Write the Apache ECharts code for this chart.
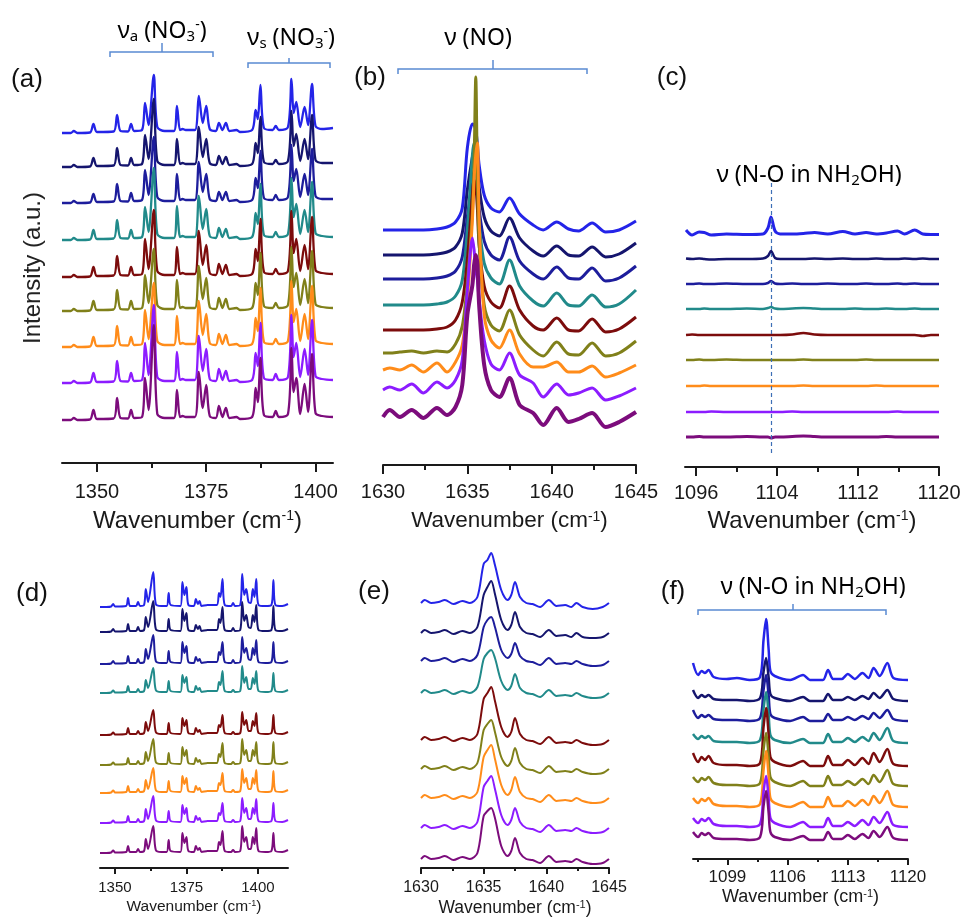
<!DOCTYPE html>
<html>
<head>
<meta charset="utf-8">
<script src="https://cdn.jsdelivr.net/npm/echarts@6/dist/echarts.min.js"></script>
<style>
  html, body { margin: 0; padding: 0; background: #fff; }
  #chart { width: 965px; height: 919px; }
</style>
</head>
<body>
<div id="chart"></div>
<script>
// Stacked Raman spectra; every panel holds nine spectra listed top to bottom.
const seriesColors = ['#2424e8', '#15156e', '#1d1d9c', '#218a8a', '#7c0c0c', '#80801a', '#ff8c1a', '#8c1cff', '#7c0c7c'];

// ---------- (a) NO3- stretching region ----------
const wnA = [1342,1344,1344.7,1345.5,1348.4,1349.2,1350,1353.8,1354.6,1355.4,1357.1,1357.8,1358.5,1360.3,1361,1361.8,1363,1363.8,1365.5,1367.6,1368.3,1369,1369.6,1370.3,1372.4,1373.3,1374.2,1375,1375.8,1377.2,1377.9,1378.7,1379.5,1380.3,1381.9,1382.7,1385.5,1386.3,1386.8,1387.4,1388.2,1390.2,1390.9,1391.6,1393.7,1394.5,1395,1395.6,1396.5,1397.5,1398.3,1399.2,1400,1401.5,1404];
const specA = [
  [0,0,2,0,0.5, 9,1,1.5,18,2, 1.5,9,2,3,30, 8,58,6,2,2, 27,3,4,3,3, 37,10,27,4,2, 10,3,10,2,3, 1,3,23,14,48, 5,3,7,3,6, 54,20,31,6,26, 8,49,7,4,5],
  [0,0,2,0,0.5, 9,1,1.5,19,2, 1.5,9,2,3,32, 8,68,6,2,2, 28,3,4,3,3, 40,10,28,4,2, 11,3,10,2,3, 1,3,24,14,50, 5,3,7,3,6, 56,21,33,6,28, 8,52,7,4,4],
  [0,0,2,0,0.5, 9,1,1.5,19,2, 1.5,10,2,3,33, 8,66,6,2,2, 29,3,4,3,3, 41,11,29,4,2, 11,3,11,2,3, 1,3,25,15,52, 5,3,8,3,6, 58,22,34,6,29, 8,54,7,4,4],
  [0,0,2,0,0.5, 10,1,1.5,20,2, 1.5,10,2,3,33, 8,72,6,2,2, 34,3,4,3,3, 44,11,31,4,2, 12,3,11,2,3, 1,3,27,16,56, 5,3,8,3,6, 62,23,36,6,30, 8,58,7,4,3],
  [0,0,2,0,0.5, 10,1,1.5,21,2, 1.5,10,2,3,38, 8,67,6,2,2, 30,3,4,3,3, 46,12,32,4,2, 13,3,12,2,3, 1,3,28,16,58, 5,3,8,3,6, 66,24,38,6,32, 8,60,7,4,3],
  [0,0,2,0,0.5, 10,1,1.5,21,2, 1.5,10,2,3,36, 8,62,6,2,2, 31,3,4,3,3, 45,12,33,4,2, 13,3,12,2,3, 1,3,28,16,58, 5,3,8,3,6, 64,24,38,6,32, 8,60,7,4,3],
  [0,0,2,0,0.5, 10,1,1.5,21,2, 1.5,10,2,3,37, 8,64,6,2,2, 31,3,4,3,3, 46,12,33,4,2, 13,3,12,2,3, 1,3,29,16,59, 5,3,8,3,6, 66,25,38,6,33, 8,61,7,4,3],
  [0,0,2,0,0.5, 10,1,1.5,22,2, 1.5,10,2,3,40, 8,78,6,2,2, 31,3,4,3,3, 47,12,34,4,2, 14,3,12,2,3, 1,3,30,17,60, 5,3,9,3,6, 68,26,40,6,34, 8,63,7,4,3],
  [0,0,2,0,0.5, 10,1,1.5,22,2, 1.5,10,2,3,42, 10,95,6,2,2, 30,3,4,3,3, 48,12,35,4,2, 14,3,12,2,3, 1,3,32,18,62, 5,3,9,3,6, 72,28,42,6,36, 8,66,7,4,3]
];
const ticksA = [1350, 1375, 1400];
const minorA = [1362.5, 1387.5];

// ---------- (b) NO stretching region ----------
const wnB = [1630,1630.4,1631.0,1631.7,1632.4,1633.2,1633.8,1634.3,1634.7,1635.0,1635.3,1635.4,1635.5,1635.6,1635.7,1636.0,1636.4,1636.9,1637.5,1638.1,1638.9,1639.5,1640.3,1641.0,1641.6,1642.4,1643.2,1644.0,1645];
const specB = [
  [0,0,0,0,0, 1,3,8,22,82, 106,105,100,85,65, 35,22,18,32,16, 5,0,8,1,-1, 7,-2,0,9],
  [0,0,0,0,0, 1,3,8,22,65, 98,104,105,90,68, 38,24,19,37,17, 4,-1,9,0,-1, 8,-2,1,12],
  [0,0,0,0,0, 1,3,8,22,62, 98,108,110,95,70, 38,24,19,42,18, 5,0,12,1,0, 11,-2,1,13],
  [0,0,0,0,0, 1,3,9,25,75, 150,162,150,115,82, 42,27,21,45,19, 4,-1,12,0,-1, 10,-2,1,15],
  [0,0,0,0,0, 1,3,10,28,70, 135,150,145,120,85, 44,28,22,44,20, 4,0,12,0,-1, 11,-2,1,13],
  [0,0,1,2,0, 2,1,9,27,70, 140,190,276,170,110, 48,28,22,43,18, 3,-3,11,-1,-2, 10,-3,0,12],
  [0,2,0,5,-2, 7,-2,8,25,70, 150,190,215,227,150, 55,30,22,40,16, 3,3,8,-2,-2, 4,-7,-3,5],
  [0,3,0,6,-3, 8,2,10,30,100, 152,140,120,110,90, 50,26,20,37,15, 7,-7,6,-5,-3, 2,-10,-6,2],
  [-2,5,-2,5,-3, 7,0,8,30,100, 130,150,160,150,110, 50,25,18,37,10, 2,-10,7,-7,-4, 2,-12,-7,3]
];
const ticksB = [1630, 1635, 1640, 1645];
const minorB = [1632.5, 1637.5, 1642.5];

// ---------- (c) N-O of NH2OH ----------
const wnC = [1095,1095.6,1096.3,1096.8,1097.5,1099,1101,1102.6,1103.1,1103.4,1103.8,1104.3,1105.5,1106.6,1107.7,1109,1110.5,1111.7,1112.8,1113.8,1114.8,1115.9,1116.6,1117.6,1118.4,1119.2,1120];
const specC = [
  [4,-1,2,1.5,-1, 0,-0.5,0,6,17, 3,0,0,0.5,1.5, 0,2.5,0,1.5,0, 1,3,0,4,0, -0.5,-0.5],
  [0.5,0,0.5,0,-0.5, 0,0,0.5,3,8, 1,0,0,0,0.5, 0,0.5,0,0,0.5, 0,0,0.5,0,0.5, 0,0],
  [0,0,0.5,0,0, 0.5,0,0,1,3, 0.5,0,0.5,0,0, 0.5,0,0,0.5,0, 0,0.5,0,0.5,0, 0,0],
  [0,0,0,0.5,0, 0,0.5,0,1,2, 0.5,0,0.5,1,0.5, 0,0,0.5,0,0, 0.5,0,0,0.5,0, 0,0],
  [0,0.5,0,0,0, 0,0,0,0,0, 0,0,0.5,2,0.5, 0,0,0,0,0, 0,0,0,0,-1, 0,0],
  [0,0,0.5,0,0, 0.5,0,0,0,0, 0,0,0,0.5,0, 0,0,0,0.5,0, 0,0,0,0,0, 0,0],
  [0,0,0,0.5,0, 0,0,0,0,0, 0,0,0,0.5,0, 0,0,0,0,0.5, 0,0,0,0,0, 0,0],
  [0,0,0,0,0.5, 0,0,0,0,0, 0,0,0.5,0,0, 0,0,0,0,0, 0,0.5,0,0,0, 0,0],
  [0,0,0.5,0,0, 0,0.5,0,0,-1, 0,0,0.5,1,0.5, 0,0,0,0,0, 0.5,0,0,0,0, 0,0]
];
const ticksC = [1096, 1104, 1112, 1120];
const minorC = [1100, 1108, 1116];
const markC = 1103.4;

// ---------- (d) NO3- region, second set ----------
const wnD = [1344.8,1347,1348.7,1349.4,1350.1,1353.9,1354.6,1355.3,1357.4,1358.1,1358.8,1360.2,1360.8,1361.6,1363.4,1364.3,1366.2,1368.1,1368.8,1369.5,1372.9,1373.6,1374.3,1375.0,1375.7,1377.6,1378.3,1379.0,1379.6,1380.3,1382.4,1385.6,1386.4,1386.9,1387.6,1388.4,1390.6,1391.3,1392.0,1393.8,1394.5,1395.2,1395.9,1396.7,1397.5,1398.2,1398.8,1399.4,1400.2,1402.6,1404.7,1405.4,1406.1,1408.5,1410.5];
const specD = [
  [0,0,0.5,3,0.5, 1,9,1,1,5, 1,2,18,5,35, 3,1,1,14,2, 1,25,12,20,2, 1,8,3,6,1, 2,2,14,10,28, 2,1,4,1,2, 33,12,18,5,4, 18,10,28,2,1, 2,27,2,1,3],
  [0,0,0.5,3,0.5, 1,8,1,1,5, 1,2,15,5,31, 3,1,1,13,2, 1,23,11,19,2, 1,7,3,6,1, 2,2,13,9,25, 2,1,4,1,2, 30,11,17,5,4, 17,10,27,2,1, 2,26,2,1,3],
  [0,0,0.5,3,0.5, 1,8,1,1,5, 1,2,15,5,29, 3,1,1,13,2, 1,22,11,18,2, 1,7,3,5,1, 2,2,12,9,22, 2,1,4,1,2, 27,11,16,5,4, 16,9,24,2,1, 2,22,2,1,3],
  [0,0,0.5,2.5,0.5, 1,7,1,1,4, 1,2,13,5,25, 3,1,1,12,2, 1,18,10,16,2, 1,7,3,5,1, 2,2,11,8,22, 2,1,3,1,2, 27,10,16,4,4, 15,9,22,2,1, 2,20,2,1,3],
  [0,0,0.5,2.5,0.5, 1,7,1,1,4, 1,2,13,4,25, 3,1,1,12,2, 1,17,9,15,2, 1,7,3,5,1, 2,2,10,8,20, 2,1,3,1,2, 23,10,15,4,4, 14,9,22,2,1, 2,20,2,1,3],
  [0,0,0.5,2.5,0.5, 1,7,1,1,4, 1,2,13,4,26, 3,1,1,12,2, 1,18,9,15,2, 1,7,3,5,1, 2,2,11,8,22, 2,1,3,1,2, 26,10,15,4,4, 15,9,23,2,1, 2,23,2,1,3],
  [0,0,0.5,2.5,0.5, 1,7,1,1,4, 1,2,13,4,25, 3,1,1,12,2, 1,17,9,15,2, 1,7,3,5,1, 2,2,10,8,20, 2,1,3,1,2, 24,10,15,4,4, 15,9,23,2,1, 2,22,2,1,3],
  [0,0,0.5,2.5,0.5, 1,7,1,1,4, 1,2,14,4,27, 3,1,1,12,2, 1,18,9,15,2, 1,7,3,5,1, 2,2,10,8,20, 2,1,3,1,2, 25,10,15,4,4, 15,9,24,2,1, 2,20,2,1,3],
  [0,0,0.5,2.5,0.5, 1,7,1,1,4, 1,2,14,4,27, 3,1,1,13,2, 1,20,10,16,2, 1,7,3,5,1, 2,2,11,8,22, 2,1,3,1,2, 27,11,16,4,4, 16,9,25,2,1, 2,20,2,1,3]
];
const ticksD = [1350, 1375, 1400];
const minorD = [1362.5, 1387.5];

// ---------- (e) NO region, second set ----------
const wnE = [1630,1630.3,1630.8,1631.4,1631.9,1632.6,1633.3,1633.9,1634.5,1635.0,1635.3,1635.6,1635.9,1636.4,1636.9,1637.2,1637.5,1637.9,1638.4,1638.9,1639.5,1640.2,1640.8,1641.5,1642.0,1642.4,1642.9,1643.7,1644.5,1645];
const specE = [
  [-1,2,-1,0,2, -2,1,-1,5,38, 42,49,37,12,2, 7,20,5,-1,-2, -5,2,-4,-3,-5, -1,-5,-7,-5,-1],
  [-1,2,-1,0,2, -2,1,-1,5,37, 45,51,38,12,2, 7,20,5,-1,-2, -5,2,-4,-3,-5, -1,-5,-6,-5,-1],
  [-1,2,-1,0,2, -2,1,-1,5,33, 40,43,33,10,2, 6,17,4,-1,-2, -5,2,-4,-3,-4, -1,-4,-6,-5,-1],
  [-1,2,-1,0,2, -2,1,-1,5,33, 39,42,34,11,2, 6,18,4,-1,-2, -5,2,-4,-3,-4, -1,-4,-6,-5,-1],
  [-1,2,-1,0,2, -2,1,-1,5,40, 46,52,38,12,2, 7,21,5,-1,-2, -5,2,-4,-3,-4, -1,-4,-6,-5,-1],
  [-1,2,-1,0,2, -2,1,-1,5,38, 44,48,36,11,2, 7,20,5,-1,-2, -5,2,-4,-3,-4, -1,-4,-6,-5,-1],
  [-1,2,-1,0,2, -2,1,-1,5,40, 47,52,38,12,2, 7,20,5,-1,-2, -5,2,-4,-3,-4, -1,-4,-6,-5,-1],
  [-1,2,-1,0,2, -2,1,-1,5,40, 46,51,38,12,2, 7,19,5,-1,-2, -5,2,-4,-3,-4, -1,-4,-6,-5,-1],
  [-1,2,-1,0,2, -2,1,-1,5,42, 47,50,40,12,2, 7,20,5,-1,-2, -5,2,-4,-3,-4, -1,-4,-6,-5,-1]
];
const ticksE = [1630, 1635, 1640, 1645];
const minorE = [1632.5, 1637.5, 1642.5];

// ---------- (f) N-O of NH2OH, second set ----------
const wnF = [1095.0,1095.6,1096.0,1096.4,1096.8,1097.4,1098.9,1100.1,1101.6,1102.8,1103.2,1103.5,1103.8,1104.0,1104.5,1106.3,1107.8,1108.6,1110.1,1110.7,1111.3,1112.3,1113.0,1113.8,1114.7,1115.4,1116.0,1116.7,1117.6,1118.3,1120];
const specF = [
  [16,4,8,6,9, 2,0,1,-1,2, 39,60,29,8,3, -1,4,-1,-1,9, 0,0,5,0,6, 1,11,3,16,1, -1],
  [10,2,5,3,5, 1,0,0,-1,2, 28,42,22,6,2, -1,3,-1,-1,6, 0,0,3,0,4, 1,7,2,10,1, -1],
  [10,2,5,3,5, 1,0,0,-1,2, 30,45,24,6,2, -1,3,-1,-1,6, 0,0,3,0,4, 1,7,2,10,1, -1],
  [8,3,6,4,6, 1,0,0,-1,2, 33,50,27,7,2, -1,3,-1,-1,8, 0,0,4,0,5, 1,9,2,14,1, -1],
  [12,3,8,5,9, 2,0,0,-1,2, 38,57,30,8,3, -1,4,-1,-1,9, 0,0,5,0,7, 1,12,3,16,1, -1],
  [8,3,7,5,8, 2,0,0,-1,2, 35,52,28,8,3, -1,4,-1,-1,9, 0,0,4,0,6, 1,10,3,15,1, -1],
  [8,3,7,5,8, 2,0,0,-1,2, 36,55,29,8,3, -1,4,-1,-1,9, 0,0,5,0,6, 1,10,3,15,1, -1],
  [8,3,7,5,8, 2,0,0,-1,2, 34,50,27,8,3, -1,4,-1,-1,8, 0,0,4,0,6, 1,9,3,14,1, -1],
  [7,2,6,4,6, 1,0,0,-1,2, 33,48,26,7,2, -1,3,-1,-1,7, 0,0,4,0,5, 1,8,2,12,1, -1]
];
const ticksF = [1099, 1106, 1113, 1120];
const minorF = [1095.5, 1102.5, 1109.5, 1116.5];

// ---------- panel layout (pixel boxes, stacking offsets, stroke widths) ----------
const AX = '#1a1a1a';
const FONT = "'Liberation Sans', Arial, sans-serif";
const TFONT = "'Noto Sans', 'Open Sans', sans-serif";

const panels = [
  { wn: wnA, spec: specA, min: 1342, max: 1404, major: ticksA, minor: minorA,
    box: { left: 62, top: 60, width: 271, height: 403 },
    lift: [330, 296, 260, 223, 186, 152, 116, 80, 43],
    lw: [2.3,2.3,2.3,2.3,2.3,2.3,2.3,2.3,2.3], label: 20, margin: 19, nameSize: 24, nameGap: 46, tick: 9, mtick: 5 },
  { wn: wnB, spec: specB, min: 1630, max: 1645, major: ticksB, minor: minorB,
    box: { left: 383, top: 60, width: 253, height: 405 },
    lift: [235, 210, 186, 160, 135, 112, 95, 75, 50],
    lw: [3,3,3,3,3,3,3,3,4], label: 20, margin: 17, nameSize: 22.5, nameGap: 45, tick: 9, mtick: 5 },
  { wn: wnC, spec: specC, min: 1094.9, max: 1120, major: ticksC, minor: minorC,
    box: { left: 685, top: 150, width: 254, height: 317 },
    lift: [233, 208, 183, 158, 132, 107, 81, 55, 30],
    lw: [3,2.5,2.5,2.5,2.5,2.5,2.5,2.5,3], label: 20, margin: 16, nameSize: 24, nameGap: 42, tick: 9, mtick: 5 },
  { wn: wnD, spec: specD, min: 1344.8, max: 1410.5, major: ticksD, minor: minorD,
    box: { left: 100, top: 560, width: 188, height: 308 },
    lift: [261, 236, 204, 175, 133, 103, 75, 45, 15],
    lw: [2,2,2,2,2,2,2,2,2], label: 15, margin: 12, nameSize: 15.5, nameGap: 31, tick: 6, mtick: 3 },
  { wn: wnE, spec: specE, min: 1630, max: 1645, major: ticksE, minor: minorE,
    box: { left: 421, top: 540, width: 188, height: 328 },
    lift: [266, 236, 208, 176, 129, 100, 71, 41, 10],
    lw: [2,2,2,2,2,2,2,2,2], label: 16, margin: 12, nameSize: 17.5, nameGap: 31, tick: 6, mtick: 3 },
  { wn: wnF, spec: specF, min: 1095, max: 1120, major: ticksF, minor: minorF,
    box: { left: 693, top: 560, width: 215, height: 299 },
    lift: [180, 159, 139, 117, 94, 74, 53, 33, 20],
    lw: [2.5,2.5,2.5,2.5,2.5,2.5,2.5,2.5,2.5], label: 17, margin: 10, nameSize: 18, nameGap: 29, tick: 6, mtick: 3 }
];

const grid = [], xAxis = [], yAxis = [], series = [];

panels.forEach((p, i) => {
  grid.push(Object.assign({ containLabel: false }, p.box));

  // main axis with labelled ticks
  xAxis.push({
    type: 'value', gridIndex: i, position: 'bottom', min: p.min, max: p.max,
    splitLine: { show: false },
    axisLine: { lineStyle: { color: AX, width: 2 } },
    axisTick: { customValues: p.major, length: p.tick, lineStyle: { color: AX, width: 2 } },
    axisLabel: { customValues: p.major, formatter: v => String(v), fontSize: p.label, margin: p.margin, color: AX, fontFamily: FONT },
    name: 'Wavenumber (cm{p|-1})', nameLocation: 'middle', nameGap: p.nameGap,
    nameTextStyle: {
      fontSize: p.nameSize, color: AX, fontFamily: FONT, lineHeight: p.nameSize,
      rich: { p: { fontSize: Math.round(p.nameSize * 0.6), lineHeight: 6, verticalAlign: 'top', color: AX, fontFamily: FONT } }
    }
  });
  // companion axis carrying the short minor ticks
  xAxis.push({
    type: 'value', gridIndex: i, position: 'bottom', min: p.min, max: p.max,
    splitLine: { show: false }, axisLine: { show: false }, axisLabel: { show: false },
    axisTick: { show: true, customValues: p.minor, length: p.mtick, lineStyle: { color: AX, width: 2 } }
  });
  yAxis.push({ type: 'value', gridIndex: i, min: 0, max: p.box.height, show: false });

  p.spec.forEach((vals, k) => {
    const s = {
      type: 'line', xAxisIndex: 2 * i, yAxisIndex: i,
      data: p.wn.map((w, j) => [w, vals[j] + p.lift[k]]),
      smooth: 0.3, showSymbol: false, silent: true, animation: false,
      lineStyle: { color: seriesColors[k], width: p.lw[k] }
    };
    if (i === 2 && k === p.spec.length - 1) {
      s.markLine = {
        silent: true, symbol: 'none', label: { show: false },
        lineStyle: { type: [4, 3], color: '#3d6fb6', width: 1.2 },
        data: [[{ coord: [markC, 14] }, { coord: [markC, 287] }]]
      };
    }
    series.push(s);
  });
});

// ---------- annotations ----------
const graphic = [];
function addText(text, x, y, size, extra) {
  graphic.push(Object.assign({
    type: 'text', x: x, y: y, silent: true,
    style: Object.assign({
      text: text, fill: '#111', font: size + 'px ' + FONT, fontSize: size, fontFamily: FONT,
      textAlign: 'center', textVerticalAlign: 'middle', align: 'center', verticalAlign: 'middle'
    }, extra || {})
  }));
}
function bracket(x1, x2, y, drop, cx, rise) {
  const st = { stroke: '#5a8ad2', lineWidth: 1.5, fill: null };
  graphic.push({ type: 'polyline', silent: true, shape: { points: [[x1, y + drop], [x1, y], [x2, y], [x2, y + drop]] }, style: st });
  graphic.push({ type: 'line', silent: true, shape: { x1: cx, y1: y, x2: cx, y2: y - rise }, style: st });
}

const titleRich = {
  v: { fontSize: 24, lineHeight: 26, color: '#111', fontFamily: TFONT },
  t: { fontSize: 23, lineHeight: 26, color: '#4d4d4d', fontFamily: TFONT },
  s: { fontSize: 15, lineHeight: 8, verticalAlign: 'bottom', color: '#4d4d4d', fontFamily: TFONT },
  p: { fontSize: 14, lineHeight: 8, verticalAlign: 'top', color: '#4d4d4d', fontFamily: TFONT }
};
function addTitle(text, x, y) {
  graphic.push({
    type: 'text', x: x, y: y, silent: true,
    style: { text: text, rich: titleRich, textAlign: 'center', textVerticalAlign: 'middle', align: 'center', verticalAlign: 'middle' }
  });
}

addTitle('{v|ν}{s|a}{t| (NO}{s|3}{p|-}{t|)}', 162, 31);
addTitle('{v|ν}{s|s}{t| (NO}{s|3}{p|-}{t|)}', 291, 38);
addTitle('{v|ν}{t| (NO)}', 478, 38);
addTitle('{v|ν}{t| (N-O in NH}{s|2}{t|OH)}', 809, 175);
addTitle('{v|ν}{t| (N-O in NH}{s|2}{t|OH)}', 813, 587);

bracket(110, 213, 52, 5, 162, 9);
bracket(248, 330, 63, 5, 289, 5);
bracket(398, 587, 69, 5, 493, 9);
bracket(698, 886, 610, 5, 793, 6);

addText('(a)', 27, 80, 26);
addText('(b)', 370, 78, 26);
addText('(c)', 672, 78, 26);
addText('(d)', 32, 594, 26);
addText('(e)', 374, 592, 26);
addText('(f)', 673, 592, 26);

graphic.push({
  type: 'text', x: 33, y: 268, rotation: Math.PI / 2, silent: true,
  style: { text: 'Intensity (a.u.)', fill: '#222', font: '24px ' + FONT, fontSize: 24, fontFamily: FONT,
           textAlign: 'center', textVerticalAlign: 'middle', align: 'center', verticalAlign: 'middle' }
});

const chart = echarts.init(document.getElementById('chart'), null, { renderer: 'canvas' });
chart.setOption({
  backgroundColor: '#ffffff',
  animation: false,
  textStyle: { fontFamily: FONT },
  grid: grid,
  xAxis: xAxis,
  yAxis: yAxis,
  series: series,
  graphic: { elements: graphic }
});
</script>
</body>
</html>
